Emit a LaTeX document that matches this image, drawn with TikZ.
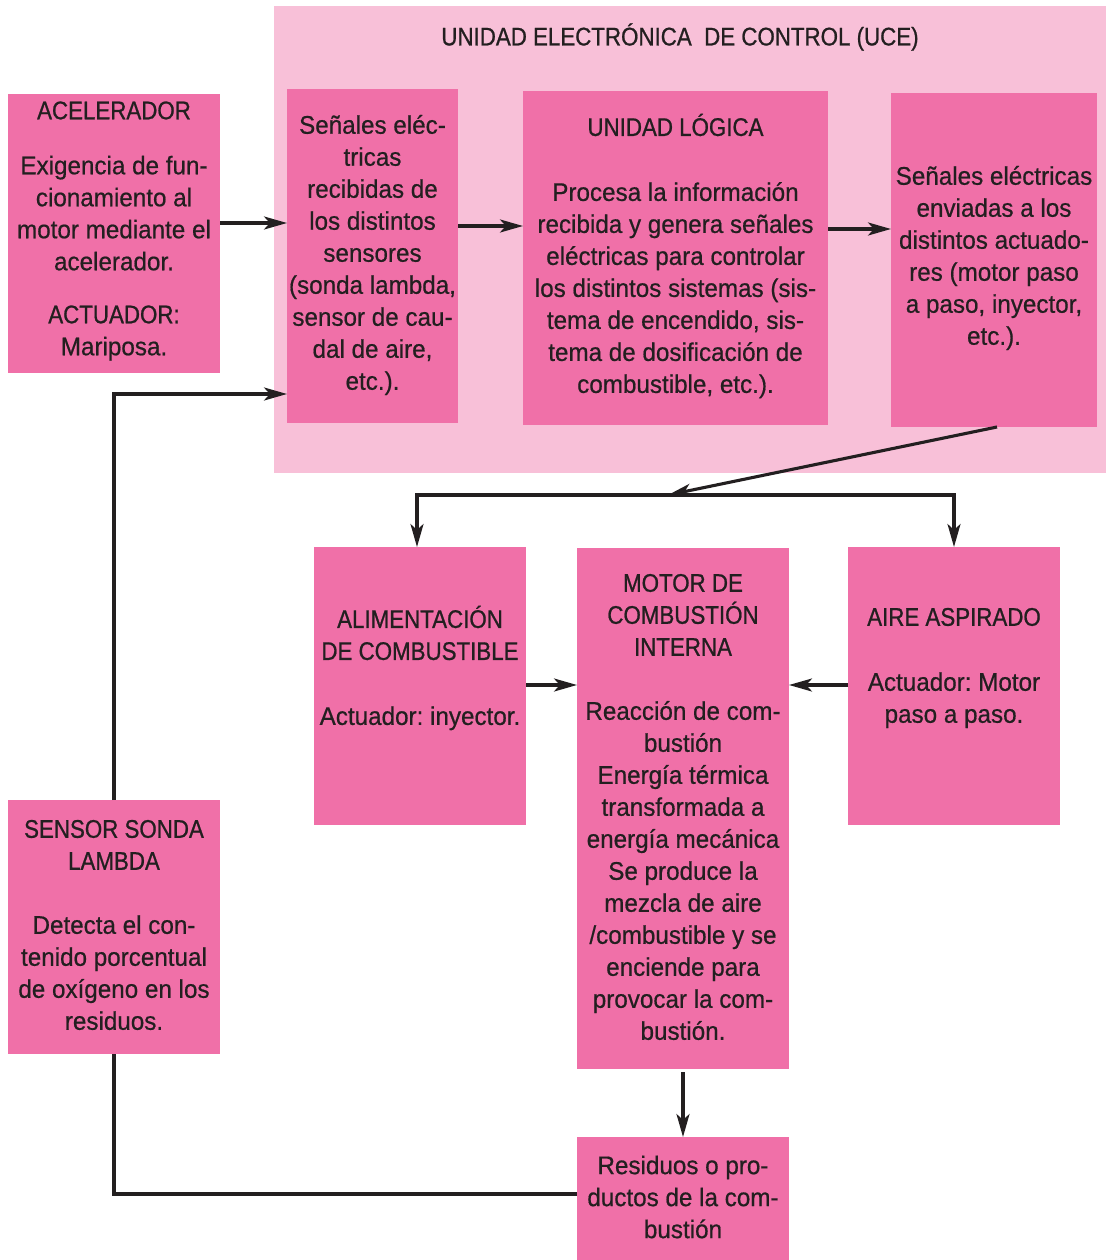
\documentclass[tikz,border=0pt]{standalone}
\usepackage{fontspec}
\setmainfont{Liberation Sans}[FakeStretch=0.95, FakeBold=0.6]
\newfontfamily\titlefont{Liberation Sans}[FakeStretch=0.875, FakeBold=0.8]
\newcommand{\tf}[1]{{\titlefont #1}}
\frenchspacing
\usetikzlibrary{arrows.meta}
\definecolor{pinkbox}{RGB}{240,112,168}
\definecolor{pinkbg}{RGB}{248,192,216}
\definecolor{ink}{RGB}{35,31,32}
\tikzset{
  pbox/.style={fill=pinkbox, draw=none, inner sep=0pt, outer sep=0pt},
  bgbox/.style={fill=pinkbg, draw=none, inner sep=0pt, outer sep=0pt},
  txt/.style={text=ink, align=center, inner sep=0pt, font=\fontsize{25.5}{32}\selectfont},
  conn/.style={draw=ink, line width=3.1pt},
  arr/.style={conn, -{Stealth[length=23pt, width=13pt, inset=6pt]}},
}
\begin{document}
\begin{tikzpicture}[x=1pt, y=-1pt]
\useasboundingbox (0,0) rectangle (1108,1260);
% background UCE
\node[bgbox, minimum width=832pt, minimum height=467pt] (uce) at (690,239.5) {};
% boxes
\node[pbox, minimum width=212pt, minimum height=279pt] (acel) at (114,233.5) {};
\node[pbox, minimum width=171pt, minimum height=334pt] (sen) at (372.5,256) {};
\node[pbox, minimum width=305pt, minimum height=334pt] (log) at (675.5,258) {};
\node[pbox, minimum width=206pt, minimum height=334pt] (env) at (994,260) {};
\node[pbox, minimum width=212pt, minimum height=278pt] (alim) at (420,686) {};
\node[pbox, minimum width=212pt, minimum height=521pt] (mot) at (683,808.5) {};
\node[pbox, minimum width=212pt, minimum height=278pt] (aire) at (954,686) {};
\node[pbox, minimum width=212pt, minimum height=254pt] (sens) at (114,927) {};
\node[pbox, minimum width=212pt, minimum height=123pt] (res) at (683,1198.5) {};
% texts
\node[txt] (tuce) at (680,37) {\tf{UNIDAD ELECTRÓNICA\ \ DE CONTROL (UCE)}};
\node[txt] (tacel) at (114,231) {\tf{ACELERADOR}\\[23pt]Exigencia de fun-\\cionamiento al\\motor mediante el\\acelerador.\\[21pt]\tf{ACTUADOR:}\\Mariposa.};
\node[txt] (tsen) at (372.5,255) {Señales eléc-\\tricas\\recibidas de\\los distintos\\sensores\\(sonda lambda,\\sensor de cau-\\dal de aire,\\etc.).};
\node[txt] (tlog) at (675.5,256) {\tf{UNIDAD LÓGICA}\\[33pt]Procesa la información\\recibida y genera señales\\eléctricas para controlar\\los distintos sistemas (sis-\\tema de encendido, sis-\\tema de dosificación de\\combustible, etc.).};
\node[txt] (tenv) at (994,258) {Señales eléctricas\\enviadas a los\\distintos actuado-\\res (motor paso\\a paso, inyector,\\etc.).};
\node[txt] (talim) at (420,668) {\tf{ALIMENTACIÓN}\\\tf{DE COMBUSTIBLE}\\[33pt]Actuador: inyector.};
\node[txt] (tmot) at (683,807) {\tf{MOTOR DE}\\\tf{COMBUSTIÓN}\\\tf{INTERNA}\\[32pt]Reacción de com-\\bustión\\Energía térmica\\transformada a\\energía mecánica\\Se produce la\\mezcla de aire\\/combustible y se\\enciende para\\provocar la com-\\bustión.};
\node[txt] (taire) at (954,668) {\tf{AIRE ASPIRADO}\\[33pt]Actuador: Motor\\paso a paso.};
\node[txt] (tsens) at (114,925) {\tf{SENSOR SONDA}\\\tf{LAMBDA}\\[32pt]Detecta el con-\\tenido porcentual\\de oxígeno en los\\residuos.};
\node[txt] (tres) at (683,1197) {Residuos o pro-\\ductos de la com-\\bustión};
% connectors
\coordinate (hub) at (668,495);
\draw[arr] (acel.east |- 0,223) -- (sen.west |- 0,223);
\draw[arr] (sen.east |- 0,226) -- (log.west |- 0,226);
\draw[arr] (log.east |- 0,229) -- (env.west |- 0,229);
\draw[arr] ([xshift=3pt]env.south) -- (hub);
\draw[arr] (hub) -| ([xshift=-3pt]alim.north);
\draw[arr] (hub) -| (aire.north);
\draw[arr] (alim.east |- 0,685) -- (mot.west |- 0,685);
\draw[arr] (aire.west |- 0,685) -- (mot.east |- 0,685);
\draw[arr, shorten <=3pt] (mot.south) -- (res.north);
\draw[conn] (res.west |- 0,1194) -| (sens.south);
\draw[arr] (sens.north) |- (sen.west |- 0,394);
\end{tikzpicture}
\end{document}
